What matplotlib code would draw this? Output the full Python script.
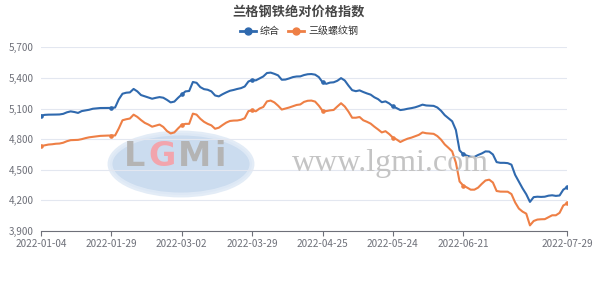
import matplotlib
matplotlib.use("Agg")
import matplotlib.pyplot as plt
from matplotlib.patches import Ellipse
from matplotlib.lines import Line2D
from matplotlib.transforms import IdentityTransform
import pandas as pd

plt.rcParams['font.family'] = ['Noto Sans CJK SC', 'DejaVu Sans']

title = "兰格钢铁绝对价格指数"
series_names = ["综合", "三级螺纹钢"]

# trading calendar (Chinese 2022 working days)
holidays = ["2022-01-31", "2022-02-01", "2022-02-02", "2022-02-03", "2022-02-04",
            "2022-04-04", "2022-04-05", "2022-05-02", "2022-05-03", "2022-05-04",
            "2022-06-03"]
extra_workdays = ["2022-01-29", "2022-01-30", "2022-04-02", "2022-04-24", "2022-05-07"]
days = pd.bdate_range("2022-01-04", "2022-07-29")
days = days[~days.isin(pd.to_datetime(holidays))].union(pd.to_datetime(extra_workdays))
dates = [d.strftime("%Y-%m-%d") for d in days]

composite = [
    5030, 5038, 5040, 5040, 5041, 5042, 5048, 5063, 5072, 5066,
    5057, 5075, 5082, 5088, 5098, 5102, 5105, 5105, 5106, 5106,
    5110, 5190, 5245, 5255, 5258, 5292, 5268, 5232, 5220, 5209,
    5196, 5205, 5212, 5206, 5185, 5160, 5168, 5205, 5238, 5268,
    5272, 5360, 5352, 5310, 5290, 5284, 5268, 5228, 5219, 5240,
    5258, 5274, 5282, 5292, 5300, 5316, 5365, 5380, 5376, 5395,
    5414, 5448, 5452, 5440, 5425, 5382, 5384, 5395, 5408, 5414,
    5415, 5428, 5436, 5438, 5432, 5408, 5358, 5342, 5354, 5357,
    5372, 5398, 5375, 5325, 5280, 5270, 5278, 5262, 5248, 5236,
    5210, 5192, 5162, 5170, 5150, 5120, 5104, 5085, 5090, 5098,
    5104, 5112, 5124, 5138, 5130, 5128, 5126, 5110, 5078, 5035,
    5005, 4975, 4890, 4690, 4652, 4638, 4627, 4626, 4645, 4660,
    4680, 4678, 4650, 4575, 4568, 4568, 4565, 4550, 4450, 4385,
    4318, 4260, 4185, 4232, 4236, 4234, 4236, 4246, 4250, 4244,
    4248, 4305, 4328,
]

rebar = [
    4732, 4740, 4747, 4750, 4755, 4757, 4765, 4780, 4790, 4792,
    4793, 4800, 4810, 4818, 4823, 4828, 4832, 4834, 4835, 4835,
    4836, 4905, 4985, 4995, 5002, 5040, 5018, 4987, 4960, 4943,
    4922, 4932, 4943, 4920, 4880, 4856, 4866, 4905, 4940, 4950,
    4950, 5050, 5040, 5000, 4970, 4950, 4935, 4902, 4912, 4938,
    4962, 4978, 4982, 4983, 4990, 5005, 5075, 5082, 5073, 5100,
    5115, 5170, 5178, 5160, 5128, 5090, 5100, 5110, 5122, 5135,
    5140, 5165, 5176, 5178, 5168, 5128, 5078, 5075, 5082, 5086,
    5120, 5152, 5120, 5070, 5010, 5010, 5017, 4985, 4970, 4952,
    4922, 4895, 4866, 4878, 4850, 4815, 4797, 4772, 4790, 4805,
    4815, 4828, 4842, 4866, 4858, 4855, 4852, 4830, 4795, 4748,
    4715, 4680, 4570, 4385, 4345, 4326, 4305, 4305, 4325, 4362,
    4395, 4403, 4375, 4292, 4286, 4285, 4285, 4262, 4180, 4120,
    4090, 4070, 3955, 3998, 4012, 4015, 4016, 4035, 4054, 4054,
    4078, 4150, 4170,
]

y_ticks = [3900, 4200, 4500, 4800, 5100, 5400, 5700]
x_label_dates = ["2022-01-04", "2022-01-29", "2022-03-02", "2022-03-29",
                 "2022-04-25", "2022-05-24", "2022-06-21", "2022-07-29"]

blue = "#2f69ae"
orange = "#ee7f45"
axis_col = "#6e7079"
grid_col = "#e3e7f0"

W, H = 598, 291
fig = plt.figure(figsize=(W / 100, H / 100), dpi=100)
ax = fig.add_axes([41 / W, 60 / H, (567 - 41) / W, (231 - 47.3) / H])

x = list(range(len(dates)))
tick_idx = [dates.index(d) for d in x_label_dates]

# watermark (pixel coordinates, y measured from bottom)
ell = Ellipse((181, H - 164), 142, 62, facecolor="#c6d9ee", edgecolor="#e0eaf6",
              lw=3.5, alpha=0.9, zorder=0)
ell.set_transform(IdentityTransform())
fig.add_artist(ell)
for ch, px, col in [("L", 124, "#b4b4b4"), ("G", 148, "#f2a5ad"),
                    ("M", 178, "#b4b4b4"), ("i", 214, "#b4b4b4")]:
    fig.text(px / W, 1 - 157 / H, ch, fontsize=24, color=col, fontweight="bold",
             family=["DejaVu Sans"], va="center", ha="left", zorder=1)
fig.text(390 / W, 1 - 163 / H, "www.lgmi.com", fontsize=23, color="#c4c4c4",
         family=["Liberation Serif", "DejaVu Serif"], va="center", ha="center", zorder=1)

ax.set_facecolor("none")
ax.plot(x, composite, color=blue, lw=1.5, zorder=3, solid_capstyle="round")
ax.plot(x, rebar, color=orange, lw=1.5, zorder=3, solid_capstyle="round")
ax.plot(tick_idx, [composite[i] for i in tick_idx], "o", color=blue, ms=2.3, zorder=4)
ax.plot(tick_idx, [rebar[i] for i in tick_idx], "o", color=orange, ms=2.3, zorder=4)

ax.set_xlim(0, len(dates) - 1)
ax.set_ylim(3900, 5700)
ax.set_yticks(y_ticks)
ax.set_yticklabels([f"{v:,}" for v in y_ticks])
ax.set_xticks(tick_idx)
ax.set_xticklabels(x_label_dates)

for s in ["top", "right", "left"]:
    ax.spines[s].set_visible(False)
ax.spines["bottom"].set_color(axis_col)
ax.spines["bottom"].set_linewidth(0.8)
ax.grid(axis="y", color=grid_col, lw=0.8)
ax.set_axisbelow(True)
ax.tick_params(axis="y", length=0, pad=5, labelsize=7.2, labelcolor=axis_col)
ax.tick_params(axis="x", length=3.5, width=0.8, color=axis_col, pad=2,
               labelsize=7.2, labelcolor=axis_col)

fig.text(0.5, 1 - 12 / H, title, ha="center", va="center", fontsize=9.5,
         fontweight="bold", color="#464646")

handles = [Line2D([], [], color=blue, lw=2, marker="o", ms=5),
           Line2D([], [], color=orange, lw=2, marker="o", ms=5)]
fig.legend(handles, series_names, loc="center", bbox_to_anchor=(0.5, 1 - 31 / H),
           ncol=2, frameon=False, fontsize=7.2, handlelength=1.6, handletextpad=0.4,
           columnspacing=0.8, labelcolor="#333333")

fig.savefig("out.png", dpi=100)
